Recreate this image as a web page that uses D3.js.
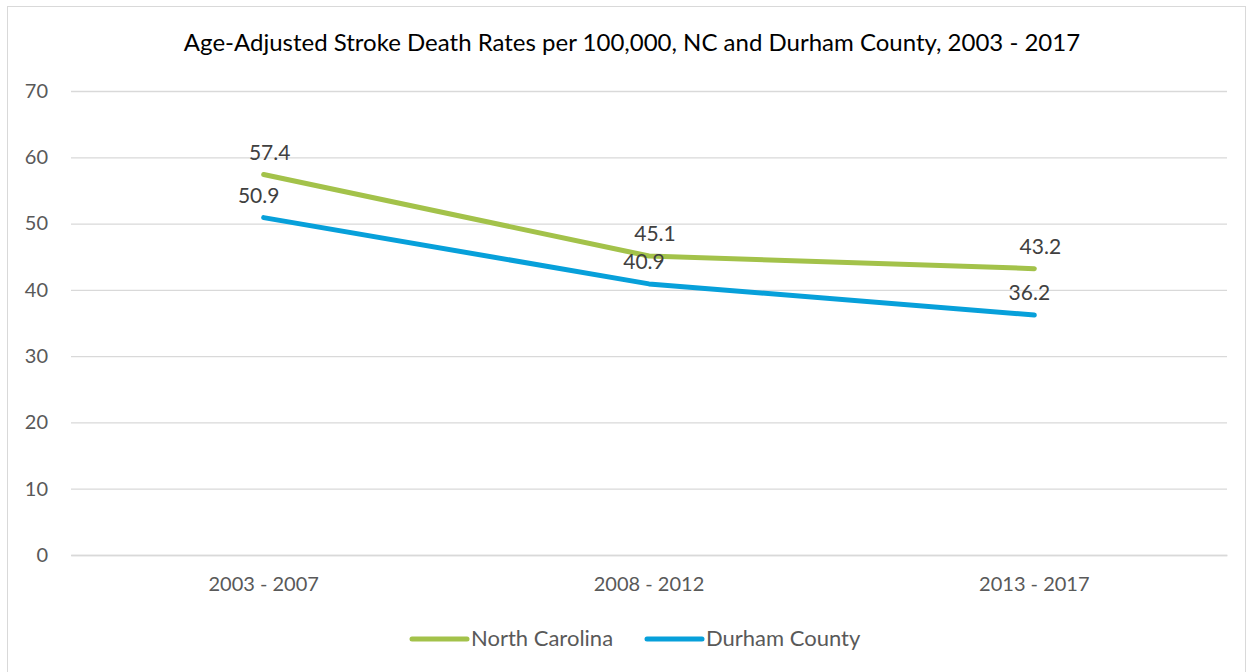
<!DOCTYPE html>
<html><head><meta charset="utf-8">
<script src="https://cdn.jsdelivr.net/npm/d3@7"></script>
<style>body{margin:0;background:#fff;} svg{display:block;font-family:Lato,"Open Sans",sans-serif;}</style>
</head><body>
<svg id="c" width="1249" height="672"></svg>
<script>
const categories = ["2003 - 2007", "2008 - 2012", "2013 - 2017"];
const northCarolina = [57.4, 45.1, 43.2];
const durhamCounty = [50.9, 40.9, 36.2];
const yTicks = [0, 10, 20, 30, 40, 50, 60, 70];
const seriesNames = ["North Carolina", "Durham County"];
const seriesColors = ["#A3C24A", "#07A0DA"];

const svg = d3.select("#c");
svg.append("rect").attr("x", 7.5).attr("y", 6.5).attr("width", 1238).attr("height", 670)
  .attr("fill", "#fff").attr("stroke", "#d9d9d9");

const x = d3.scaleBand().domain(categories).range([71, 1227]);
const y = d3.scaleLinear().domain([0, 70]).range([555, 91]);

svg.append("text").attr("x", 632).attr("y", 51).attr("text-anchor", "middle")
  .attr("font-size", 24).attr("fill", "#000")
  .text("Age-Adjusted Stroke Death Rates per 100,000, NC and Durham County, 2003 - 2017");

const yAxis = d3.axisLeft(y).tickValues(yTicks).tickSize(-(1227 - 71)).tickPadding(23);
const gy = svg.append("g").attr("transform", "translate(71,0)").call(yAxis);
gy.select(".domain").remove();
gy.selectAll(".tick line").attr("stroke", "#d9d9d9").attr("stroke-width", 1.3);
gy.selectAll(".tick text").attr("font-size", 20).attr("fill", "#595959").attr("font-family", "Lato,'Open Sans',sans-serif");

const xAxis = d3.axisBottom(x).tickSize(0).tickPadding(22);
const gx = svg.append("g").attr("transform", "translate(0,555)").call(xAxis);
gx.select(".domain").attr("stroke", "#d9d9d9").attr("stroke-width", 1.3);
gx.selectAll(".tick text").attr("font-size", 20).attr("fill", "#595959").attr("font-family", "Lato,'Open Sans',sans-serif");

const cx = d => x(d) + x.bandwidth() / 2;
const series = [northCarolina, durhamCounty];
const line = d3.line().x((d, i) => cx(categories[i])).y(d => y(d));
series.forEach((s, k) => {
  svg.append("path").datum(s).attr("d", line).attr("fill", "none")
    .attr("stroke", seriesColors[k]).attr("stroke-width", 5).attr("stroke-linecap", "round").attr("stroke-linejoin", "round");
  svg.selectAll(null).data(s).enter().append("text")
    .attr("x", (d, i) => cx(categories[i]) + (k === 0 ? 6 : -5))
    .attr("y", d => y(d) - 15)
    .attr("text-anchor", "middle").attr("font-size", 21).attr("fill", "#404040")
    .text(d => d.toFixed(1));
});

const legendX = [412, 647];
seriesNames.forEach((n, k) => {
  const g = svg.append("g").attr("transform", `translate(${legendX[k]},639)`);
  g.append("line").attr("x1", 0).attr("x2", 55).attr("stroke", seriesColors[k])
    .attr("stroke-width", 5).attr("stroke-linecap", "round");
  g.append("text").attr("x", 59).attr("y", 7).attr("font-size", 22).attr("fill", "#595959").text(n);
});
</script>
</body></html>
